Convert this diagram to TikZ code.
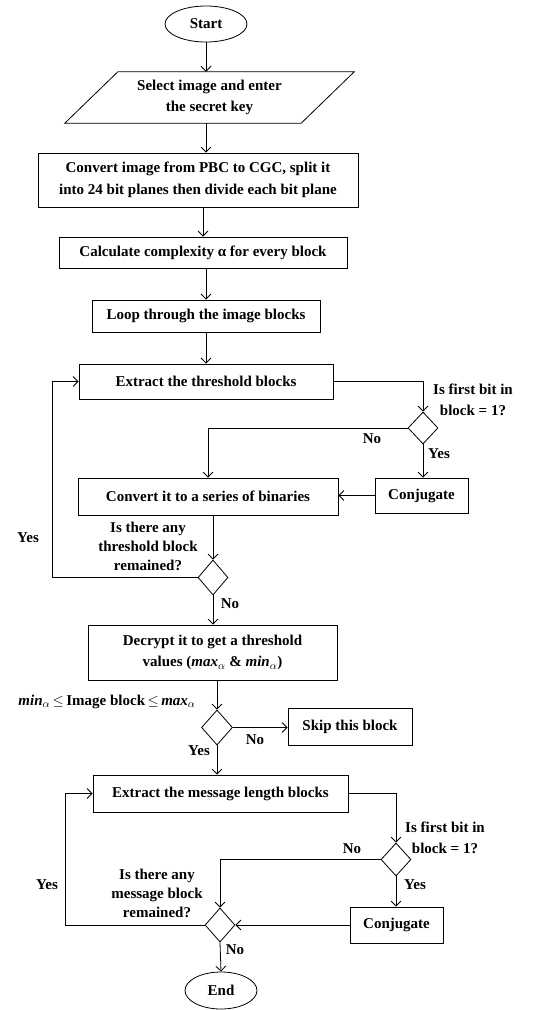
\documentclass[tikz,border=0pt]{standalone}
\usepackage{fontspec}
\setmainfont{Liberation Serif}
\usetikzlibrary{shapes.geometric,arrows.meta}
\begin{document}
\begin{tikzpicture}[x=1pt,y=-1pt,
  every node/.style={font=\bfseries\fontsize{15}{21.5}\selectfont, inner sep=0pt},
  box/.style={draw, line width=0.8pt, align=center},
  term/.style={draw, ellipse, line width=0.8pt},
  dia/.style={draw, diamond, line width=0.8pt},
  lbl/.style={align=center},
  qlbl/.style={align=center, font=\bfseries\fontsize{15}{19}\selectfont},
  arr/.style={line width=0.8pt, -{Straight Barb[length=5pt,width=10pt]}}
]
\useasboundingbox (0,0) rectangle (548,1010);

\node[term, minimum width=82, minimum height=36] (start) at (206,24) {Start};

\node[minimum width=236, minimum height=51, align=center] (in) at (209.5,97.5) {Select image and enter\\the secret key};
\draw[line width=0.8pt] ([xshift=26.5]in.north west) -- ([xshift=26.5]in.north east)
  -- ([xshift=-26.5]in.south east) -- ([xshift=-26.5]in.south west) -- cycle;

\node[box, minimum width=320, minimum height=54] (conv) at (198,180) {Convert image from PBC to CGC, split it\\into 24 bit planes then divide each bit plane};
\node[box, minimum width=288, minimum height=31] (calc) at (203,252.5) {Calculate complexity α for every block};
\node[box, minimum width=228, minimum height=32] (loop) at (206,316) {Loop through the image blocks};
\node[box, minimum width=254, minimum height=35] (ext1) at (206,381.5) {Extract the threshold blocks};
\node[dia, minimum width=30, minimum height=32] (d1) at (423,428) {};
\node[lbl] (q1) at (473,400) {Is first bit in\\block = 1?};
\node[box, minimum width=260, minimum height=37] (conv2) at (208,496.5) {Convert it to a series of binaries};
\node[box, minimum width=93, minimum height=35] (conj1) at (421.5,495.5) {Conjugate};
\node[dia, minimum width=30, minimum height=35] (d2) at (213,577.5) {};
\node[qlbl] (q2) at (148,546) {Is there any\\threshold block\\remained?};
\node[box, minimum width=249, minimum height=55] (dec) at (212.5,652.5) {Decrypt it to get a threshold\\values (\textit{max}$_{\alpha}$ \& \textit{min}$_{\alpha}$)};
\node[dia, minimum width=31, minimum height=35] (d3) at (217,727.5) {};
\node[lbl] (cond) at (107,702) {\textit{min}$_{\alpha}$\,$\le$\,Image block\,$\le$\,\textit{max}$_{\alpha}$};
\node[box, minimum width=124, minimum height=37] (skip) at (350,726.5) {Skip this block};
\node[box, minimum width=255, minimum height=37] (ext2) at (220.5,793.5) {Extract the message length blocks};
\node[dia, minimum width=30, minimum height=33] (d4) at (396,859.5) {};
\node[lbl] (q3) at (445,838) {Is first bit in\\block = 1?};
\node[box, minimum width=93, minimum height=36] (conj2) at (396.5,925) {Conjugate};
\node[dia, minimum width=30, minimum height=34] (d5) at (220,925) {};
\node[qlbl] (q4) at (157,893) {Is there any\\message block\\remained?};
\node[term, minimum width=72, minimum height=37] (end) at (221,990.5) {End};

\coordinate (l1) at (52,577.5);
\coordinate (l2) at (65,925);

\draw[arr] (start.south) -- (start.south |- in.north);
\draw[arr] (in.south -| start) -- (start |- conv.north);
\draw[arr] (conv.south -| calc) -- (calc.north);
\draw[arr] (calc.south -| loop) -- (loop.north);
\draw[arr] (loop.south) -- (ext1.north);
\draw[arr] (ext1.east) -| (d1.north);
\draw[arr] (d1.west) -| (conv2.north);
\node[lbl] (n1) at (372,439) {No};
\draw[arr] (d1.south) -- (d1.south |- conj1.north);
\node[lbl] (y1) at (439,454) {Yes};
\draw[arr] (conj1.west) -- (conj1.west -| conv2.east);
\draw[arr] (conv2.south -| d2) -- (d2.north);
\draw[arr] (d2.west) -- (l1) |- (ext1.west);
\node[lbl] (y2) at (28,538) {Yes};
\draw[arr] (d2.south) -- (d2.south |- dec.north);
\node[lbl] (n2) at (230,604) {No};
\draw[arr] (dec.south -| d3) -- (d3.north);
\draw[arr] (d3.east) -- (d3.east -| skip.west);
\node[lbl] (n3) at (255,740) {No};
\draw[arr] (d3.south) -- (d3.south |- ext2.north);
\node[lbl] (y3) at (199,751) {Yes};
\draw[arr] (ext2.east) -| (d4.north);
\draw[arr] (d4.west) -| (d5.north);
\node[lbl] (n4) at (352,849) {No};
\draw[arr] (d4.south) -- (d4.south |- conj2.north);
\node[lbl] (y4) at (415,885) {Yes};
\draw[arr] (conj2.west) -- (d5.east);
\draw[arr] (d5.west) -- (l2) |- (ext2.west);
\node[lbl] (y5) at (47,885) {Yes};
\draw[arr] (d5.south) -- (end.north);
\node[lbl] (n5) at (235,950) {No};
\end{tikzpicture}
\end{document}
